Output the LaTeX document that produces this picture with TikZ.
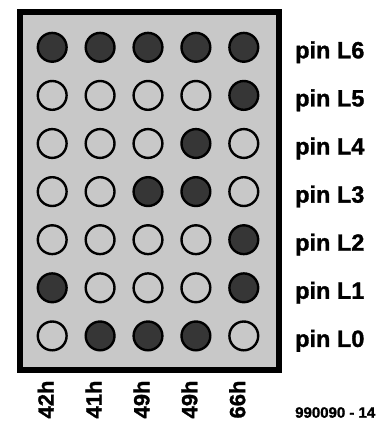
\documentclass[tikz,border=0pt]{standalone}
\usepackage{fontspec}
\setmainfont{Liberation Sans}[BoldFeatures={FakeBold=1.3}]
\definecolor{panel}{RGB}{200,200,200}
\definecolor{ledon}{RGB}{54,54,54}
\begin{document}
\begin{tikzpicture}[x=1pt,y=-1pt,
  panelbox/.style={draw=black, line width=6pt, fill=panel, inner sep=0pt, minimum width=258.2pt, minimum height=357.5pt},
  ledoff/.style={circle, draw=black, line width=2.4pt, minimum size=28.8pt, inner sep=0pt},
  ledlit/.style={ledoff, fill=ledon},
  pinlabel/.style={anchor=base west, inner sep=0pt, font=\fontsize{23.5}{28}\selectfont\bfseries},
  collabel/.style={rotate=90, anchor=center, inner sep=0pt, font=\fontsize{22}{26}\selectfont\bfseries},
  figlabel/.style={anchor=base west, inner sep=0pt, font=\fontsize{15}{18}\selectfont\bfseries}]
\useasboundingbox (0,0) rectangle (385,421);
\node[panelbox] (panel) at (149.4,190.75) {};
% rows: L6 (top) to L0 (bottom); 1 = lit
\foreach \r/\pat/\lab in {0/{1,1,1,1,1}/L6, 1/{0,0,0,0,1}/L5, 2/{0,0,0,1,0}/L4, 3/{0,0,1,1,0}/L3, 4/{0,0,0,0,1}/L2, 5/{1,0,0,0,1}/L1, 6/{0,1,1,1,0}/L0}{
  \foreach \v [count=\c from 0] in \pat {
    \ifnum\v=1
      \node[ledlit] (led-\r-\c) at (52.2+47.9*\c, 47.3+48.1*\r) {};
    \else
      \node[ledoff] (led-\r-\c) at (52.2+47.9*\c, 47.3+48.1*\r) {};
    \fi
  }
  \node[pinlabel] (pin-\lab) at (295, 58.3+48.1*\r) {pin \lab};
}
\foreach \t [count=\c from 0] in {42h,41h,49h,49h,66h}{
  \node[collabel] (col-\c) at (45.7+47.9*\c, 399.5) {\t};
}
\node[figlabel] (fig) at (295,417.7) {990090 - 14};
\end{tikzpicture}
\end{document}
